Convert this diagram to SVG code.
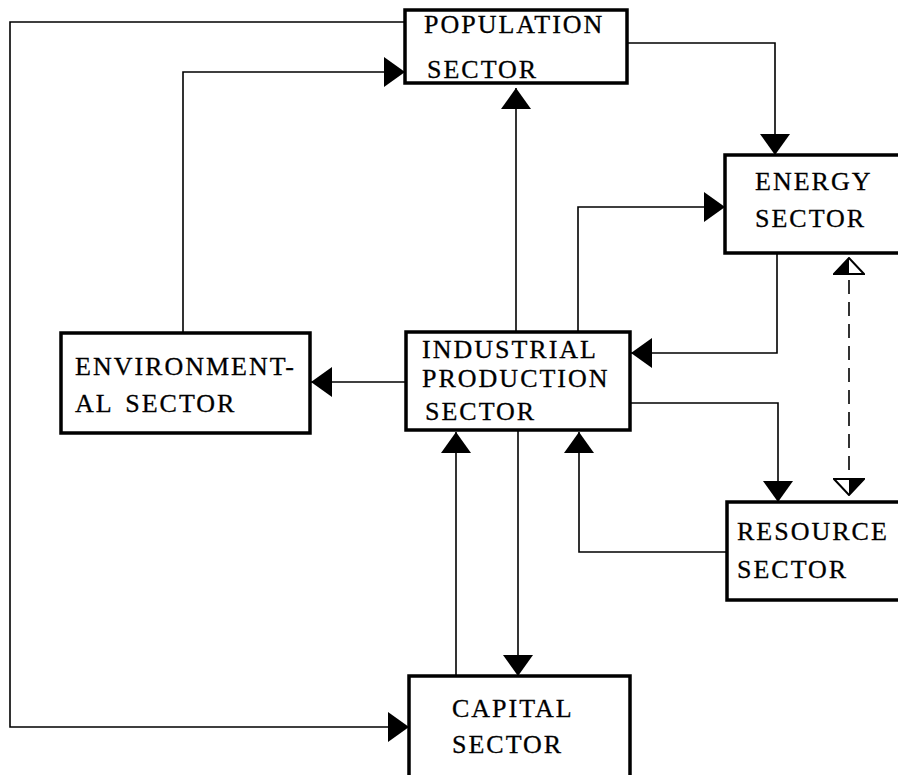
<svg xmlns="http://www.w3.org/2000/svg" width="898" height="775" viewBox="0 0 898 775">
<style>
.box{fill:#fff;stroke:#000;stroke-width:3.5}
.lbl{font-family:'Liberation Serif','Times New Roman',serif;font-size:26px;letter-spacing:2px;fill:#000;stroke:#000;stroke-width:0.3}
.c{fill:none;stroke:#000;stroke-width:1.6;marker-end:url(#ah)}
.d{fill:none;stroke:#000;stroke-width:1.6;stroke-dasharray:14,8;marker-start:url(#hh);marker-end:url(#hh)}
</style>
<defs>
<marker id="ah" viewBox="0 0 21 30" refX="21" refY="15" markerWidth="21" markerHeight="30" markerUnits="userSpaceOnUse" orient="auto">
<path d="M0,0 L21,15 L0,30 z" fill="#000"/>
</marker>
<marker id="hh" viewBox="-1 -1 18 32" refX="16" refY="15" markerWidth="18" markerHeight="32" markerUnits="userSpaceOnUse" orient="auto-start-reverse">
<path d="M0,0 L16,15 L0,30 z" fill="#fff" stroke="#000" stroke-width="2"/>
<path d="M0,0 L16,15 L0,15 z" fill="#000"/>
</marker>
</defs>
<g id="connectors">
<path class="c" d="M627,43 H775 V155"/>
<path class="c" d="M405,22 H10 V727 H409"/>
<path class="c" d="M183,333 V72 H405"/>
<path class="c" d="M516,332 V88"/>
<path class="c" d="M578,332 V207 H725"/>
<path class="c" d="M777,253 V353 H631"/>
<path class="c" d="M630,403 H778 V502"/>
<path class="c" d="M727,552 H579 V432"/>
<path class="c" d="M406,382 H311"/>
<path class="c" d="M456,676 V432"/>
<path class="c" d="M518,430 V676"/>
<path class="d" d="M849,258 V495"/>
</g>
<g id="population">
<rect class="box" x="405" y="10" width="222" height="73"/>
<text class="lbl" x="424" y="33">POPULATION</text>
<text class="lbl" x="427" y="78">SECTOR</text>
</g>
<g id="energy">
<rect class="box" x="725" y="155" width="190" height="98"/>
<text class="lbl" x="755" y="190">ENERGY</text>
<text class="lbl" x="755" y="227">SECTOR</text>
</g>
<g id="environmental">
<rect class="box" x="61" y="333" width="249" height="100"/>
<text class="lbl" x="75" y="375">ENVIRONMENT-</text>
<text class="lbl" x="75" y="412">AL <tspan dx="4">SECTOR</tspan></text>
</g>
<g id="industrial">
<rect class="box" x="406" y="332" width="224" height="98"/>
<text class="lbl" x="422" y="358">INDUSTRIAL</text>
<text class="lbl" x="422" y="387">PRODUCTION</text>
<text class="lbl" x="425" y="420">SECTOR</text>
</g>
<g id="resource">
<rect class="box" x="727" y="502" width="190" height="98"/>
<text class="lbl" x="737" y="540">RESOURCE</text>
<text class="lbl" x="737" y="578">SECTOR</text>
</g>
<g id="capital">
<rect class="box" x="409" y="676" width="221" height="110"/>
<text class="lbl" x="452" y="717">CAPITAL</text>
<text class="lbl" x="452" y="753">SECTOR</text>
</g>
</svg>
